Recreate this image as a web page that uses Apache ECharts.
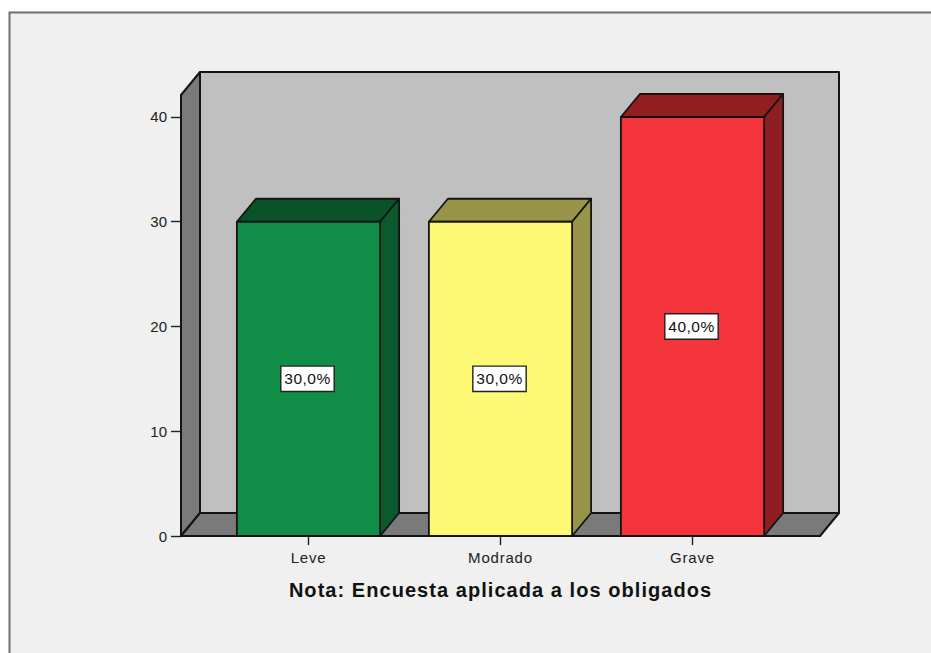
<!DOCTYPE html>
<html><head><meta charset="utf-8">
<style>html,body{margin:0;padding:0;background:#fff}#c{width:931px;height:653px}</style>
<script src="https://cdn.jsdelivr.net/npm/echarts@6/dist/echarts.min.js"></script>
</head><body><div id="c"></div>
<script>
const categories = ['Leve', 'Modrado', 'Grave'];
const values = [30, 30, 40];
const valueLabels = ['30,0%', '30,0%', '40,0%'];
const yTicks = [0, 10, 20, 30, 40];
const frontColors = ['#108e48', '#fdf974', '#f3343b'];
const topColors = ['#0a5328', '#989548', '#921e22'];
const sideColors = ['#0a5a2d', '#989548', '#8e1e22'];
const xPositions = [0, 1, 2];
const chartTitle = 'Nota: Encuesta aplicada a los obligados';
const xMin = -0.664, xMax = 2.664, yMax = 42.1;
const depthX = 19, depthY = 23, halfBar = 0.373;
const edge = '#141414';
const fontName = '"Liberation Sans", Arial, sans-serif';

function poly(points, fill, width) {
  return { type: 'polygon', shape: { points }, style: { fill, stroke: edge, lineWidth: width || 1.8, lineJoin: 'round' } };
}
function renderWalls(params, api) {
  const a = api.coord([xMin, 0]), b = api.coord([xMax, 0]), t = api.coord([xMin, yMax]);
  const B = p => [p[0] + depthX, p[1] - depthY];
  const tr = [b[0], t[1]];
  return { type: 'group', children: [
    poly([B(a), B(b), B(tr), B(t)], '#c0c0c0', 2),
    poly([a, B(a), B(t), t], '#7a7a7a', 2),
    poly([a, b, B(b), B(a)], '#7a7a7a', 2)
  ]};
}
function renderBar(params, api) {
  const i = params.dataIndex, x = api.value(0), v = api.value(1);
  const bl = api.coord([x - halfBar, 0]), br = api.coord([x + halfBar, 0]);
  const tl = api.coord([x - halfBar, v]), tr = api.coord([x + halfBar, v]);
  const mid = api.coord([x, v / 2]);
  const B = p => [p[0] + depthX, p[1] - depthY];
  return { type: 'group', children: [
    poly([tl, tr, B(tr), B(tl)], topColors[i]),
    poly([br, tr, B(tr), B(br)], sideColors[i]),
    poly([bl, br, tr, tl], frontColors[i]),
    { type: 'text', x: mid[0] - 1, y: mid[1], z2: 10, style: {
        text: valueLabels[i], fill: '#111', font: '15.5px ' + fontName,
        align: 'center', verticalAlign: 'middle',
        backgroundColor: '#fff', borderColor: '#222', borderWidth: 1.4, padding: [5, 4, 3, 4]
    } }
  ]};
}
const chart = echarts.init(document.getElementById('c'), null, { renderer: 'svg' });
chart.setOption({
  animation: false,
  backgroundColor: '#fff',
  graphic: [{ type: 'rect', z: -10, silent: true,
    shape: { x: 9.5, y: 12.5, width: 940, height: 660 },
    style: { fill: '#f0f0f0', stroke: '#6e6e6e', lineWidth: 2 } }],
  grid: { left: 181, right: 111, top: 95, bottom: 117 },
  xAxis: {
    type: 'value', min: xMin, max: xMax, splitLine: { show: false },
    axisLine: { show: true, onZero: false, lineStyle: { color: edge, width: 1.8 } },
    axisTick: { show: true, length: 9, customValues: xPositions, lineStyle: { color: '#222', width: 1.4 } },
    axisLabel: { customValues: xPositions, formatter: v => categories[Math.round(v)],
      color: '#222', fontFamily: fontName, fontSize: 15, margin: 14 },
    name: chartTitle, nameLocation: 'middle', nameGap: 44,
    nameTextStyle: { color: '#111', fontFamily: fontName, fontWeight: 'bold', fontSize: 20 }
  },
  yAxis: {
    type: 'value', min: 0, max: yMax, splitLine: { show: false },
    axisLine: { show: true, onZero: false, lineStyle: { color: edge, width: 1.8 } },
    axisTick: { show: true, length: 10, customValues: yTicks, lineStyle: { color: '#222', width: 1.4 } },
    axisLabel: { customValues: yTicks, color: '#222', fontFamily: fontName, fontSize: 15, margin: 14 }
  },
  tooltip: { show: false },
  series: [
    { type: 'custom', z: 1, silent: true, clip: false, renderItem: renderWalls,
      encode: { x: 0, y: 1 }, data: [[0, 0]] },
    { type: 'custom', z: 3, silent: true, clip: false, renderItem: renderBar,
      encode: { x: 0, y: 1 }, data: xPositions.map((x, i) => [x, values[i]]) }
  ]
});
function spaceText() {
  document.querySelectorAll('#c svg text').forEach(t => {
    const s = t.textContent;
    if (s === chartTitle) t.style.letterSpacing = '1.05px';
    else if (categories.includes(s)) t.style.letterSpacing = '0.8px';
    else if (valueLabels.includes(s)) t.style.letterSpacing = '0.5px';
  });
}
chart.on('finished', spaceText);
spaceText();
</script></body></html>
